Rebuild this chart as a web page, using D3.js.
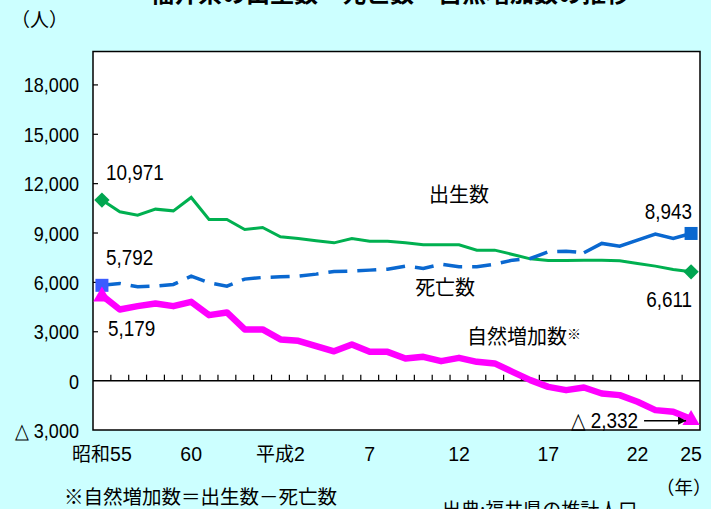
<!DOCTYPE html>
<html>
<head>
<meta charset="utf-8">
<script src="https://cdn.jsdelivr.net/npm/d3@7"></script>
<style>
  html, body { margin: 0; padding: 0; background: #ccffff; }
  svg { display: block; }
  .num { font-family: "Liberation Sans", Arial, sans-serif; }
  .jp { font-family: "Noto Sans CJK JP", sans-serif; }
</style>
</head>
<body>
<div id="chart"></div>
<script>
// years (昭和55 .. 平成25)
const categories = ["昭和55","56","57","58","59","60","61","62","63","平成元",
  "平成2","3","4","5","6","7","8","9","10","11","12","13","14","15","16","17",
  "18","19","20","21","22","23","24","25"];
const shownTicks = ["昭和55","60","平成2","7","12","17","22","25"];
const yTicks = [-3000, 0, 3000, 6000, 9000, 12000, 15000, 18000];

const births = [10971,10257,10057,10421,10318,11132,9795,9795,9187,9309,8738,8640,8495,8373,
  8640,8476,8476,8373,8252,8252,8252,7930,7930,7668,7401,7304,7304,7316,7316,7280,7122,6957,6757,6611];
const deaths = [5792,5906,5700,5742,5845,6350,5943,5742,6168,6270,6310,6350,6472,6634,
  6654,6715,6775,6957,6818,7079,6917,6917,7079,7322,7422,7827,7868,7767,8337,8173,8537,8902,8640,8943];
const natural = [5179,4326,4527,4690,4527,4788,3980,4144,3111,3111,2503,2418,2096,1780,
  2199,1750,1750,1349,1446,1185,1385,1142,1045,535,30,-377,-577,-416,-780,-881,-1287,-1793,-1895,-2332];

const W = 711, H = 509;
const plotLeft = 93, plotRight = 700, plotTop = 51.5, plotBottom = 430;
const narrow = 0.86;   // numbers are drawn a bit condensed

const svg = d3.select("#chart").append("svg")
    .attr("width", W)
    .attr("height", H);

const x = d3.scaleBand().domain(categories).range([plotLeft, plotRight]);
const cx = d => x(d) + x.bandwidth() / 2;
const y = d3.scaleLinear().domain([-3000, 20000]).range([plotBottom, plotTop]);

const fmt = d => d < 0 ? "△ " + d3.format(",")(-d) : d3.format(",")(d);
const at = (px, py) => "translate(" + px + "," + py + ") scale(" + narrow + ",1)";

// title (cut off at the top)
svg.append("text")
    .attr("class", "jp")
    .attr("x", 390).attr("y", 2)
    .attr("text-anchor", "middle")
    .attr("font-size", 24).attr("font-weight", "bold")
    .text("福井県の出生数・死亡数・自然増加数の推移");

svg.append("text").attr("class", "jp")
    .attr("x", 11).attr("y", 27)
    .attr("font-size", 19)
    .text("（人）");

// plot box
svg.append("rect")
    .attr("x", plotLeft).attr("y", plotTop)
    .attr("width", plotRight - plotLeft).attr("height", plotBottom - plotTop)
    .attr("fill", "#fff")
    .attr("stroke", "#000").attr("stroke-width", 1.5);

// y axis ticks + labels
const yAxis = svg.append("g")
    .attr("transform", "translate(" + plotLeft + ",0)")
    .call(d3.axisRight(y).tickValues(yTicks.filter(d => d > 0)).tickSize(5).tickFormat(""));
yAxis.select(".domain").remove();
yAxis.selectAll("line").attr("stroke", "#000").attr("stroke-width", 1.2);

svg.selectAll(".ylab")
    .data(yTicks).enter()
    .append("text")
    .attr("class", "ylab num")
    .attr("transform", d => at(plotLeft - 14, y(d) + 8))
    .attr("text-anchor", "end")
    .attr("font-size", 21)
    .text(fmt);

// zero line with category ticks
svg.append("line")
    .attr("x1", plotLeft).attr("x2", plotRight)
    .attr("y1", y(0)).attr("y2", y(0))
    .attr("stroke", "#000").attr("stroke-width", 1.5);

svg.selectAll(".xtick")
    .data(categories.slice(1)).enter()
    .append("line")
    .attr("x1", d => x(d)).attr("x2", d => x(d))
    .attr("y1", y(0)).attr("y2", y(0) - 6)
    .attr("stroke", "#000").attr("stroke-width", 1.2);

const xl = svg.selectAll(".xlab")
    .data(shownTicks).enter()
    .append("text")
    .attr("x", d => cx(d))
    .attr("y", plotBottom + 31)
    .attr("text-anchor", "middle");
// era prefix and digits in their own fonts
xl.each(function (d) {
    const m = d.match(/^(\D*)(\d+)$/);
    const t = d3.select(this);
    if (m[1]) t.append("tspan").attr("class", "jp").attr("font-size", 19).text(m[1]);
    t.append("tspan").attr("class", "num").attr("font-size", 19.5).text(m[2]);
});

// lines
const line = vals => d3.line().x((d, i) => cx(categories[i])).y(d => y(d))(vals);

svg.append("path")
    .attr("d", line(births))
    .attr("fill", "none").attr("stroke", "#00b050").attr("stroke-width", 3);

const dashEnd = 27;
svg.append("path")
    .attr("d", d3.line().x(i => cx(categories[i])).y(i => y(deaths[i]))(d3.range(0, dashEnd + 1)))
    .attr("fill", "none").attr("stroke", "#0a68d0").attr("stroke-width", 3.5)
    .attr("stroke-dasharray", "19,10");
svg.append("path")
    .attr("d", d3.line().x(i => cx(categories[i])).y(i => y(deaths[i]))(d3.range(dashEnd, deaths.length)))
    .attr("fill", "none").attr("stroke", "#0a68d0").attr("stroke-width", 3.5);

svg.append("path")
    .attr("d", line(natural))
    .attr("fill", "none").attr("stroke", "#ff00ff").attr("stroke-width", 6.5)
    .attr("stroke-linejoin", "round");

// end markers
const ends = [0, categories.length - 1];
svg.selectAll(".mb").data(ends).enter().append("path")
    .attr("transform", i => "translate(" + cx(categories[i]) + "," + y(births[i]) + ")")
    .attr("d", d3.symbol(d3.symbolDiamond2, 150))
    .attr("fill", "#00a550");
svg.selectAll(".md").data(ends).enter().append("rect")
    .attr("x", i => cx(categories[i]) - 6.5).attr("y", i => y(deaths[i]) - 6.5)
    .attr("width", 13).attr("height", 13)
    .attr("fill", (i, k) => k === 0 ? "#3a5cff" : "#0a68d0");
svg.selectAll(".mn").data(ends).enter().append("path")
    .attr("transform", i => "translate(" + cx(categories[i]) + "," + (y(natural[i]) + 1) + ")")
    .attr("d", d3.symbol(d3.symbolTriangle, 130))
    .attr("fill", "#ff00ff");

// value labels
const first = 0, last = categories.length - 1;
const valLabels = [
  { v: births[first], i: first, dx: 4, dy: -20, anchor: "start" },
  { v: deaths[first], i: first, dx: 4, dy: -20, anchor: "start" },
  { v: natural[first], i: first, dx: 6, dy: 41, anchor: "start" },
  { v: deaths[last], i: last, dx: 1, dy: -14, anchor: "end" },
  { v: births[last], i: last, dx: 1, dy: 35, anchor: "end" }
];
svg.selectAll(".vlab").data(valLabels).enter().append("text")
    .attr("class", "num")
    .attr("transform", d => at(cx(categories[d.i]) + d.dx, y(d.v) + d.dy))
    .attr("text-anchor", d => d.anchor)
    .attr("font-size", 22)
    .text(d => fmt(d.v));

// minimum label with arrow
const lastX = cx(categories[last]);
svg.append("text")
    .attr("class", "num")
    .attr("transform", at(lastX - 53, y(0) + 47))
    .attr("text-anchor", "end")
    .attr("font-size", 22)
    .text(fmt(natural[last]));
svg.append("defs").append("marker")
    .attr("id", "ah").attr("viewBox", "0 0 10 10")
    .attr("refX", 10).attr("refY", 5)
    .attr("markerWidth", 10).attr("markerHeight", 8)
    .attr("markerUnits", "userSpaceOnUse")
    .attr("orient", "auto")
    .append("path").attr("d", "M0,0L10,5L0,10z").attr("fill", "#000");
svg.append("line")
    .attr("x1", lastX - 47).attr("x2", lastX - 5)
    .attr("y1", y(0) + 40).attr("y2", y(0) + 40)
    .attr("stroke", "#000").attr("stroke-width", 1.5)
    .attr("marker-end", "url(#ah)");

// series names
const names = [
  { t: "出生数", i: 20, v: 10850, dx: 0 },
  { t: "死亡数", i: 19, v: 5190, dx: 4 }
];
svg.selectAll(".sname").data(names).enter().append("text")
    .attr("class", "jp")
    .attr("x", d => cx(categories[d.i]) + d.dx)
    .attr("y", d => y(d.v))
    .attr("text-anchor", "middle")
    .attr("font-size", 20)
    .text(d => d.t);

const nat = svg.append("text").attr("class", "jp")
    .attr("x", cx(categories[20]) + 65).attr("y", y(2245))
    .attr("text-anchor", "middle")
    .attr("font-size", 20);
nat.append("tspan").text("自然増加数");
nat.append("tspan").attr("font-size", 14).attr("dy", -5).text("※");

// notes
svg.append("text").attr("class", "jp")
    .attr("x", 64).attr("y", 504)
    .attr("font-size", 19.5)
    .text("※自然増加数＝出生数－死亡数");
svg.append("text").attr("class", "jp")
    .attr("x", 442).attr("y", 517)
    .attr("font-size", 19)
    .text("出典:福井県の推計人口");
svg.append("text").attr("class", "jp")
    .attr("x", 656).attr("y", 494)
    .attr("font-size", 18.5)
    .text("（年）");
</script>
</body>
</html>
